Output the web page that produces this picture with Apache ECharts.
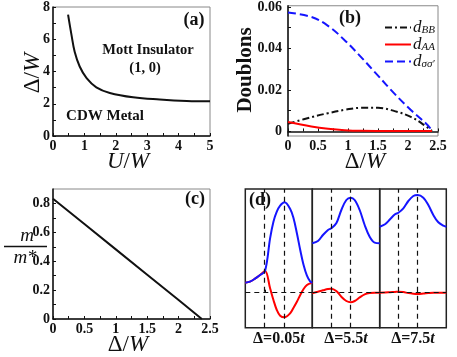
<!DOCTYPE html>
<html><head><meta charset="utf-8">
<script src="https://cdn.jsdelivr.net/npm/echarts@6/dist/echarts.min.js"></script>
<style>html,body{margin:0;padding:0;background:#fff}#c{width:457px;height:357px}</style>
</head><body><div id="c"></div>
<script>
// Panel (a): phase boundary
const aU = [0.48, 0.59, 0.69, 0.85, 1.07, 1.38, 1.81, 2.55, 3.40, 4.26, 5.0];
const aDelta = [7.53, 6.26, 5.23, 4.31, 3.59, 3.02, 2.67, 2.40, 2.26, 2.17, 2.15];
// Panel (b): doublons
const bSSX = [0, 0.389, 0.667, 0.944, 1.222, 1.5, 1.778, 2.056, 2.333, 2.4];
const bSS = [0.0573, 0.0552, 0.0509, 0.044, 0.0357, 0.0269, 0.0181, 0.0101, 0.0029, 0.0002];
const bBBX = [0, 0.389, 0.667, 0.944, 1.222, 1.5, 1.778, 2.056, 2.278, 2.4];
const bBB = [0.0037, 0.0069, 0.0088, 0.0104, 0.0114, 0.0114, 0.0098, 0.0069, 0.0029, 0.0002];
const bAAX = [0, 0.389, 0.667, 0.944, 1.222, 1.778, 2.4];
const bAA = [0.0045, 0.0024, 0.0013, 0.0006, 0.0003, 0.0002, 0.0002];
// Panel (c): m/m*
const cX = [0, 0.5, 1, 1.5, 2, 2.37];
const cY = [0.833, 0.658, 0.482, 0.307, 0.131, 0];
// Panel (d): density profiles
const d1X = [0, 0.07, 0.145, 0.22, 0.295, 0.37, 0.42, 0.47, 0.52, 0.585, 0.67, 0.72, 0.77, 0.82, 0.87, 0.92, 0.97, 1.0];
const d1Blue = [0.10, 0.11, 0.14, 0.177, 0.217, 0.544, 0.71, 0.81, 0.87, 0.904, 0.837, 0.744, 0.594, 0.427, 0.277, 0.17, 0.11, 0.10];
const d1Red = [0.10, 0.11, 0.14, 0.177, 0.217, 0.044, -0.073, -0.173, -0.23, -0.246, -0.206, -0.15, -0.09, -0.023, 0.037, 0.077, 0.094, 0.10];
const d2X = [0, 0.084, 0.158, 0.233, 0.282, 0.356, 0.431, 0.505, 0.569, 0.629, 0.703, 0.777, 0.851, 0.926, 1.0];
const d2Blue = [0.494, 0.517, 0.577, 0.627, 0.644, 0.694, 0.827, 0.927, 0.95, 0.927, 0.827, 0.677, 0.56, 0.50, 0.494];
const d2Red = [-0.006, 0.01, 0.024, 0.037, 0.04, 0.017, -0.04, -0.083, -0.096, -0.083, -0.047, -0.016, -0.003, 0, 0];
const d3X = [0, 0.08, 0.155, 0.23, 0.28, 0.355, 0.43, 0.505, 0.57, 0.655, 0.73, 0.805, 0.88, 0.955, 1.0];
const d3Blue = [0.66, 0.684, 0.734, 0.784, 0.80, 0.844, 0.917, 0.967, 0.977, 0.95, 0.877, 0.777, 0.704, 0.67, 0.66];
const d3Red = [0, 0.002, 0.005, 0.008, 0.01, 0.006, -0.004, -0.01, -0.012, -0.008, -0.003, 0, 0, 0, 0];
const dSites = [[0.295, 0.585], [0.28, 0.57], [0.28, 0.57]];
const dLabels = ['0.05', '5.5', '7.5'];

const FF = 'Liberation Serif, Times New Roman, serif';
const zip = (xs, ys) => xs.map((x, i) => [x, ys[i]]);
const range = (a, b, s) => { const r = []; for (let v = a; v <= b + 1e-9; v += s) r.push(+v.toFixed(4)); return r; };

const chart = echarts.init(document.getElementById('c'));

const grids = [
  {left: 53, top: 6, width: 157, height: 130},
  {left: 288, top: 5, width: 150, height: 131},
  {left: 53, top: 189, width: 157, height: 130},
  {left: 245.3, top: 189, width: 67, height: 138.7},
  {left: 312.3, top: 189, width: 67.4, height: 138.7},
  {left: 379.7, top: 189, width: 66.6, height: 138.7}
].map((g, i) => Object.assign(g, {show: true, borderColor: i >= 3 ? '#222' : '#888', borderWidth: i >= 3 ? 1.5 : 1, containLabel: false}));

const lab = {fontFamily: FF, fontWeight: 'bold', fontSize: 14, color: '#111'};
const axLine = {show: true, lineStyle: {color: '#111', width: 1.5}};
const tick = (vals) => ({show: true, inside: true, length: 3, customValues: vals, lineStyle: {color: '#111', width: 1}});
const fmt = (v) => v === 0 ? '0' : String(+v.toFixed(3));

const xAxis = [
  {gridIndex: 0, type: 'value', min: 0, max: 5, axisLine: axLine, axisTick: tick(range(0, 5, 0.5)), splitLine: {show: false},
   axisLabel: Object.assign({customValues: range(0, 5, 1), margin: 3, formatter: fmt}, lab)},
  {gridIndex: 1, type: 'value', min: 0, max: 2.5, axisLine: axLine, axisTick: tick(range(0, 2.5, 0.25)), splitLine: {show: false},
   axisLabel: Object.assign({customValues: range(0, 2.5, 0.5), margin: 3, formatter: fmt}, lab)},
  {gridIndex: 2, type: 'value', min: 0, max: 2.5, axisLine: axLine, axisTick: tick(range(0, 2.5, 0.25)), splitLine: {show: false},
   axisLabel: Object.assign({customValues: range(0, 2.5, 0.5), margin: 3, formatter: fmt}, lab)}
];
const yAxis = [
  {gridIndex: 0, type: 'value', min: 0, max: 8, axisLine: axLine, axisTick: tick(range(0, 8, 1)), splitLine: {show: false},
   axisLabel: Object.assign({customValues: range(0, 8, 2), margin: 3, formatter: fmt}, lab)},
  {gridIndex: 1, type: 'value', min: -0.0022, max: 0.0606, axisLine: axLine, axisTick: tick(range(0, 0.06, 0.01)), splitLine: {show: false},
   axisLabel: Object.assign({customValues: [0, 0.02, 0.04, 0.06], margin: 6, formatter: (v) => v === 0 ? '0' : v.toFixed(2)}, lab)},
  {gridIndex: 2, type: 'value', min: 0, max: 0.9, axisLine: axLine, axisTick: tick(range(0, 0.8, 0.1)), splitLine: {show: false},
   axisLabel: Object.assign({customValues: range(0, 0.8, 0.2), margin: 3, formatter: (v) => v === 0 ? '0' : v.toFixed(1)}, lab)}
];
for (let k = 0; k < 3; k++) {
  xAxis.push({gridIndex: 3 + k, type: 'value', min: 0, max: 1, axisLine: {show: false}, axisTick: tick(dSites[k]),
    axisLabel: {show: false}, splitLine: {show: false},
    name: '{n|Δ=' + dLabels[k] + '}{i|t}', nameLocation: 'middle', nameGap: 3,
    nameTextStyle: {rich: {n: {fontFamily: FF, fontWeight: 'bold', fontSize: 16, color: '#111'}, i: {fontFamily: FF, fontWeight: 'bold', fontStyle: 'italic', fontSize: 16, color: '#111'}}}});
  yAxis.push({gridIndex: 3 + k, type: 'value', min: -0.35, max: 1.037, show: false, splitLine: {show: false}});
}

const line = (xi, data, color, width, type, name) => ({
  type: 'line', name: name, xAxisIndex: xi, yAxisIndex: xi, data: data, symbol: 'none', smooth: false,
  lineStyle: {color: color, width: width, type: type}, itemStyle: {color: color}, silent: true, animation: false, z: 3
});

const series = [
  Object.assign(line(0, zip(aU, aDelta), '#111', 2, 'solid'), {smooth: 0.4}),
  Object.assign(line(1, zip(bBBX, bBB), '#111', 2, [7, 3, 2, 3], 'dBB'), {smooth: 0.4}),
  Object.assign(line(1, zip(bAAX, bAA), '#f00', 2, 'solid', 'dAA'), {smooth: 0.4}),
  Object.assign(line(1, zip(bSSX, bSS), '#1515ff', 2, [8, 4], 'dss'), {smooth: 0.4}),
  line(2, zip(cX, cY), '#111', 2, 'solid')
];
const dBlue = [d1Blue, d2Blue, d3Blue], dRed = [d1Red, d2Red, d3Red], dXs = [d1X, d2X, d3X];
for (let k = 0; k < 3; k++) {
  const s = Object.assign(line(3 + k, zip(dXs[k], dRed[k]), '#f00', 2, 'solid'), {smooth: 0.35});
  s.markLine = {silent: true, symbol: 'none', label: {show: false}, animation: false,
    lineStyle: {color: '#111', type: [5, 4], width: 1.2},
    data: dSites[k].map(v => ({xAxis: v})).concat([{yAxis: 0}])};
  series.push(s);
  series.push(Object.assign(line(3 + k, zip(dXs[k], dBlue[k]), '#1515ff', 2, 'solid'), {smooth: 0.35}));
}

const legNames = {dBB: '{i|d}{s|BB}', dAA: '{i|d}{s|AA}', dss: '{i|d}{s|σσ′}'};
const T = (x, y, text, size, opt) => Object.assign({type: 'text', x: x, y: y, z: 10,
  style: Object.assign({text: text, fontFamily: FF, fontWeight: 'bold', fontSize: size, fill: '#111', align: 'center', verticalAlign: 'middle'}, (opt && opt.style) || {})},
  opt && opt.rotation !== undefined ? {rotation: opt.rotation} : {});
const richName = {
  i: {fontFamily: FF, fontStyle: 'italic', fontSize: 23, fill: '#111'},
  n: {fontFamily: FF, fontSize: 23, fill: '#111'}
};

chart.setOption({
  animation: false,
  grid: grids,
  xAxis: xAxis,
  yAxis: yAxis,
  series: series,
  legend: {
    data: ['dBB', 'dAA', 'dss'], orient: 'vertical', left: 379, top: 14, itemWidth: 26, itemHeight: 10, itemGap: 0,
    itemStyle: {color: 'rgba(0,0,0,0)', borderColor: 'rgba(0,0,0,0)', borderWidth: 0},
    formatter: (n) => legNames[n],
    textStyle: {padding: [0, 0, 0, -3], rich: {
      i: {fontFamily: FF, fontStyle: 'italic', fontSize: 17, color: '#111', lineHeight: 16},
      s: {fontFamily: FF, fontStyle: 'italic', fontSize: 11, color: '#111', padding: [5, 0, 0, 0], lineHeight: 16}
    }}
  },
  graphic: [
    T(194, 20, '(a)', 18),
    T(148, 50, 'Mott Insulator', 14.5),
    T(145, 68, '(1, 0)', 14.5),
    T(105, 116, 'CDW Metal', 15),
    T(350, 18, '(b)', 18),
    T(195, 199, '(c)', 18),
    T(260, 200, '(d)', 18),
    T(128, 162, '{i|U}{n|/}{i|W}', 23, {style: {rich: richName}}),
    T(33, 73, '{n|Δ/}{i|W}', 23, {rotation: Math.PI / 2, style: {rich: richName}}),
    T(365, 162, '{n|Δ/}{i|W}', 23, {style: {rich: richName}}),
    T(246, 70, 'Doublons', 21, {rotation: Math.PI / 2}),
    T(128, 345, '{n|Δ/}{i|W}', 23, {style: {rich: richName}}),
    T(27, 236, 'm', 19, {style: {fontStyle: 'italic', fontWeight: 'normal'}}),
    {type: 'line', z: 10, shape: {x1: 4, y1: 246.5, x2: 47, y2: 246.5}, style: {stroke: '#111', lineWidth: 1.5}},
    T(25, 258, 'm*', 19, {style: {fontStyle: 'italic', fontWeight: 'normal'}})
  ]
});
</script></body></html>
